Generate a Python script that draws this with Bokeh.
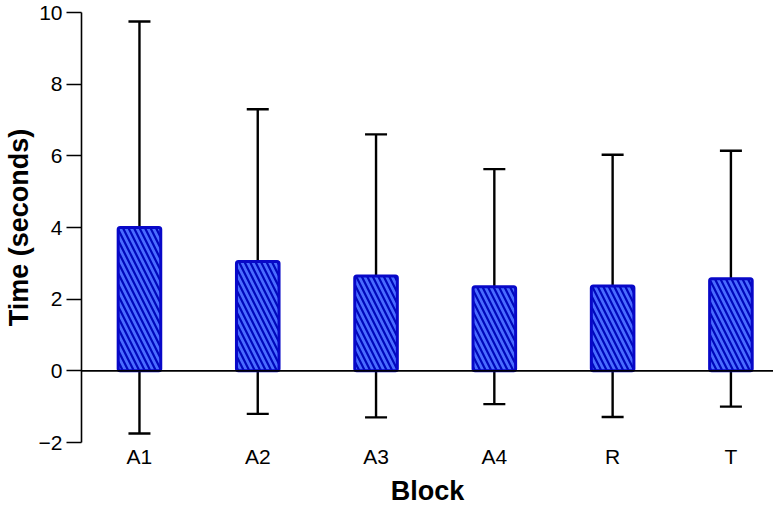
from bokeh.plotting import figure
from bokeh.models import Range1d, FixedTicker, Whisker, TeeHead, ColumnDataSource, Span
from bokeh.embed import file_html
from bokeh.resources import INLINE

blocks = ["A1", "A2", "A3", "A4", "R", "T"]
means = [4.0, 3.05, 2.65, 2.35, 2.37, 2.57]
sds = [5.75, 4.25, 3.95, 3.28, 3.66, 3.57]
y_ticks = [-2, 0, 2, 4, 6, 8, 10]

xs = list(range(len(blocks)))
src = ColumnDataSource(dict(
    x=xs, mean=means,
    upper=[m + s for m, s in zip(means, sds)],
    lower=[m - s for m, s in zip(means, sds)],
))

p = figure(width=773, height=508,
           output_backend="svg", toolbar_location=None,
           x_range=Range1d(-0.49, 5.36), y_range=Range1d(-2, 10),
           min_border_left=71, min_border_right=0, min_border_top=12, min_border_bottom=40)
p.outline_line_color = None
p.xgrid.visible = False
p.ygrid.visible = False
p.background_fill_color = "white"
p.border_fill_color = "white"

FONT = "Liberation Sans"

# y axis
ya = p.yaxis[0]
ya.ticker = FixedTicker(ticks=y_ticks)
ya.bounds = (-2, 10)
ya.minor_tick_line_color = None
ya.major_tick_out = 15
ya.major_tick_in = 0
ya.axis_line_width = 1.6
ya.major_tick_line_width = 1.6
ya.axis_line_color = "black"
ya.major_tick_line_color = "black"
ya.major_label_text_font = FONT
ya.major_label_text_font_size = "21px"
ya.major_label_text_color = "black"
ya.major_label_standoff = 4
ya.major_label_overrides = {t: ("\u22122" if t < 0 else str(t)) for t in y_ticks}
ya.axis_label = "Time (seconds)"
ya.axis_label_text_font = FONT
ya.axis_label_text_font_size = "27px"
ya.axis_label_text_font_style = "bold"
ya.axis_label_text_color = "black"
ya.axis_label_standoff = 2

# x axis
xa = p.xaxis[0]
xa.ticker = FixedTicker(ticks=xs)
xa.major_label_overrides = {i: b for i, b in zip(xs, blocks)}
xa.axis_line_color = None
xa.major_tick_line_color = None
xa.major_tick_out = 0
xa.major_tick_in = 0
xa.minor_tick_line_color = None
xa.major_label_standoff = 2
xa.major_label_text_font = FONT
xa.major_label_text_font_size = "21px"
xa.major_label_text_color = "black"
xa.axis_label = "Block"
xa.axis_label_text_font = FONT
xa.axis_label_text_font_size = "27px"
xa.axis_label_text_font_style = "bold"
xa.axis_label_text_color = "black"
xa.axis_label_standoff = 5

p.vbar(x="x", top="mean", bottom=0, width=0.36, source=src,
       fill_color="#4a6cff", line_color="#0808c8", line_width=3,
       hatch_pattern="left_diagonal_line", hatch_color="#0008bc",
       hatch_scale=11, hatch_weight=2.2, border_radius=2)

p.add_layout(Span(location=0, dimension="width", line_color="black", line_width=1.6))

w = Whisker(base="x", upper="upper", lower="lower", source=src,
            line_color="black", line_width=2.4,
            upper_head=TeeHead(size=22, line_color="black", line_width=2.4),
            lower_head=TeeHead(size=22, line_color="black", line_width=2.4))
p.add_layout(w)

open("out.html", "w").write(file_html(p, INLINE))
